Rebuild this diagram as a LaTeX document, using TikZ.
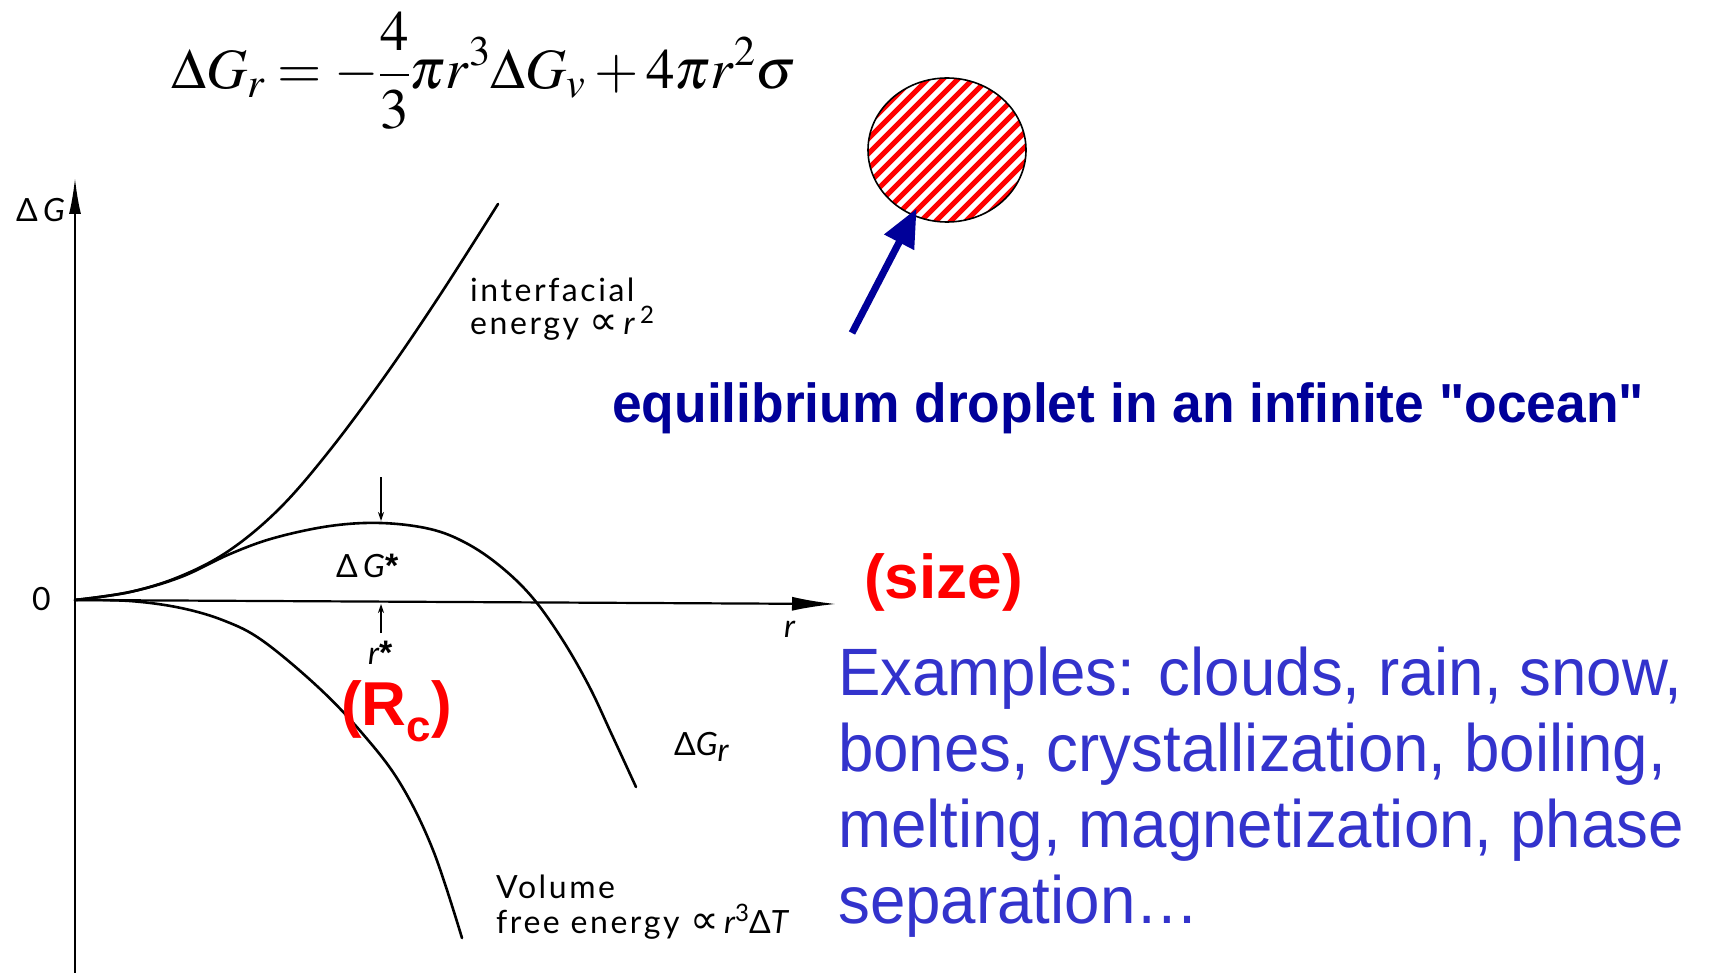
\documentclass[tikz,border=0pt]{standalone}
\usepackage{mathptmx}
\usepackage[no-math]{fontspec}
\setmainfont{Liberation Sans}
\newfontfamily\plainsans{Liberation Sans}
\newfontfamily\plotfont{Lato}[LetterSpace=8]
\newfontfamily\symfont{DejaVu Sans}
\usetikzlibrary{arrows.meta,shapes.geometric,calc}
\definecolor{dkblue}{RGB}{0,0,153}
\definecolor{exblue}{RGB}{51,51,204}
\definecolor{redtxt}{RGB}{255,0,0}
\newcommand{\prop}{\smash{\symfont\fontsize{40}{40}\selectfont\char"221D}}
\newcommand{\str}{{\plainsans\bfseries\fontsize{34}{34}\selectfont *}}
\begin{document}
\begin{tikzpicture}[x=1pt,y=-1pt,
  curve/.style={line width=2.6pt, line cap=round, line join=round},
  axisline/.style={line width=2.2pt},
  smallarrow/.style={line width=1.5pt, -{Stealth[length=9pt,width=6pt]}},
  plotlbl/.style={anchor=base west, inner sep=0, font=\plotfont\fontsize{32}{34}\selectfont},
  redlbl/.style={anchor=base west, inner sep=0, text=redtxt, font=\bfseries\fontsize{62}{64}\selectfont},
  exline/.style={anchor=base west, inner sep=0, text=exblue, font=\fontsize{67}{70}\selectfont},
  bluearrow/.style={draw=dkblue, line width=7pt, -{Triangle[length=38pt,width=32pt]}}]
\useasboundingbox (0,0) rectangle (1710,973);
\fill[white] (0,0) rectangle (1710,973);

% equation
\node[anchor=base west, inner sep=0] (eq) at (171,89)
  {\fontsize{57}{60}\selectfont $\Delta G_{r} = -\displaystyle\frac{4}{3}\pi r^{3}\Delta G_{v} + 4\pi r^{2}\sigma$};

% axes
\coordinate (O) at (75,600);
\coordinate (ytop) at (75,178);
\coordinate (ybot) at (75,973);
\coordinate (xend) at (836,604);
\draw[axisline, -{Latex[length=36pt,width=12pt]}] (ybot) -- (ytop);
\draw[axisline, -{Latex[length=44pt,width=14pt]}] (O) -- (xend);

\node[plotlbl] (lblG) at (16,222) {Δ\,\itshape G};
\node[plotlbl] (lbl0) at (32,610) {0};
\node[plotlbl] (lblr) at (784,637) {\itshape r};

% curves
\draw[curve] plot[smooth,tension=0.6] coordinates {(75,600) (130,592) (181,576) (230,550) (280,508) (330,450) (385,376) (440,295) (498,204)};
\draw[curve] plot[smooth,tension=0.6] coordinates {(75,600) (130,592) (181,577) (230,554) (274,538) (330,526) (381,523) (430,529) (466,543) (500,566) (532,597) (562,639) (589,686) (612,735) (636,787)};
\draw[curve] plot[smooth,tension=0.6] coordinates {(75,600) (130,601) (181,608) (225,621) (263,641) (318,687) (362,733) (400,783) (433,850) (462,938)};

% critical markers
\coordinate (dtop) at (381,477);
\coordinate (dtip) at (381,521);
\coordinate (ubot) at (381,633);
\coordinate (utip) at (381,604);
\draw[smallarrow] (dtop) -- (dtip);
\draw[smallarrow] (ubot) -- (utip);

\node[plotlbl] (lblGs) at (336,577) {Δ\,\itshape G\upshape\str};
\node[plotlbl] (lblrs) at (368,664) {\itshape r\upshape\str};
\node[redlbl] (rc) at (341,725) {(R\raisebox{-16pt}{\fontsize{44}{44}\selectfont c})};

\node[plotlbl] (int1) at (470,302) {interfacial};
\node[plotlbl] (int2) at (470,335) {energy \prop\,\itshape r\upshape\,\raisebox{12pt}{\fontsize{24}{24}\selectfont 2}};
\node[plotlbl] (lblGr) at (674,755) {Δ\itshape G\raisebox{-6pt}{r}};
\node[plotlbl] (vol1) at (496,898) {Volume};
\node[plotlbl] (vol2) at (496,933) {free energy \prop\,\itshape r\upshape\raisebox{12pt}{\fontsize{24}{24}\selectfont 3}Δ\itshape T};

% droplet
\node[draw, line width=1.6pt, ellipse, minimum width=158pt, minimum height=144pt, inner sep=0,
  path picture={\foreach \c in {-180,-165,...,180}{\draw[red, line width=5pt] ($(path picture bounding box.center)+({\c/2-120},{\c/2+120})$) -- ++(240,-240);}}]
  (drop) at (947,150) {};
\coordinate (tail) at (852,333);
\draw[bluearrow, shorten >=66pt] (tail) -- (drop.center);

\node[anchor=base west, inner sep=0, text=dkblue, font=\plainsans\bfseries\fontsize{55}{58}\selectfont] (eqtxt) at (612,422)
  {\scalebox{0.97}[1]{equilibrium droplet in an infinite "ocean"}};

\node[redlbl] (size) at (864,598) {(size)};

\node[exline] (ex1) at (838,695) {\scalebox{0.95}[1]{Examples: clouds, rain, snow,}};
\node[exline] (ex2) at (838,771) {\scalebox{0.95}[1]{bones, crystallization, boiling,}};
\node[exline] (ex3) at (838,847) {\scalebox{0.95}[1]{melting, magnetization, phase}};
\node[exline] (ex4) at (838,923) {\scalebox{0.95}[1]{separation…}};
\end{tikzpicture}
\end{document}
